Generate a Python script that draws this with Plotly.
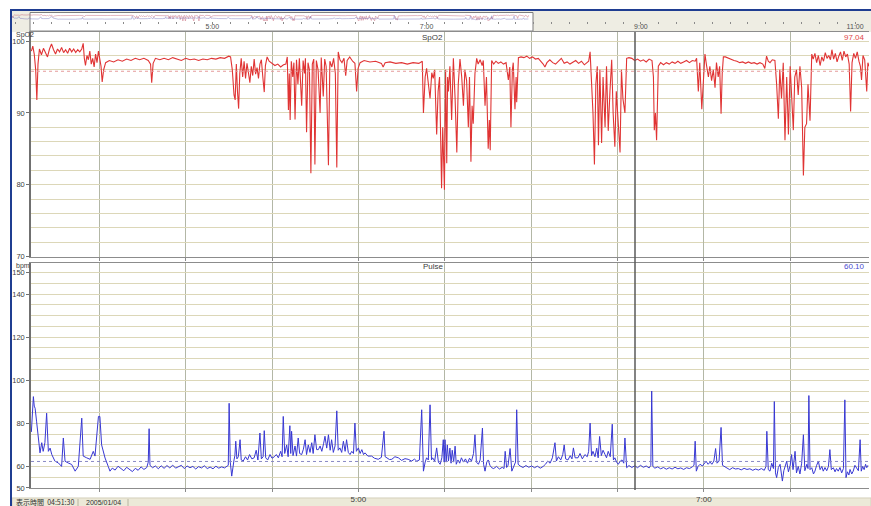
import plotly.graph_objects as go

W, DH = 871, 506          # design coordinates (reference pixels)
FIG_H = 512               # page is captured slightly taller and squeezed to 506
def px(x): return x / W
def py(y): return 1 - y / DH

# ---------------- data (time = minutes after midnight) ----------------
view_range = [186.27, 477.39]
overview_range = [187.8, 668.9]
cursor_time = 396.1
spo2_mean = "97.04"
pulse_mean = "60.10"
spo2_ref = 95.8
pulse_ref = 62.3
display_span = "04:51:30"
record_date = "2005/01/04"

spo2_ticks = [70, 80, 90, 100]
pulse_ticks = [50, 60, 80, 100, 120, 140, 150]
time_tick_vals = [300, 420]
time_tick_text = ["5:00", "7:00"]
overview_tick_vals = [300, 420, 540, 660]
overview_tick_text = ["5:00", "7:00", "9:00", "11:00"]

spo2_points = [
    (186.4, 98.6), (186.9, 99.3), (187.4, 98.2), (187.9, 96.0), (188.3, 91.8), (188.7, 96.8), (189.2, 98.9),
    (189.9, 98.1), (190.6, 99.0), (191.3, 98.4), (192.0, 97.8), (192.7, 98.9), (193.4, 99.6), (194.1, 98.8),
    (194.8, 98.2), (195.5, 98.9), (196.2, 98.5), (196.9, 99.1), (197.6, 98.4), (198.3, 98.8), (199.0, 98.3),
    (199.7, 99.0), (200.4, 98.5), (201.1, 98.9), (201.8, 98.4), (202.5, 98.8), (203.2, 98.5), (203.9, 98.9),
    (204.4, 99.7), (204.8, 97.6), (205.2, 96.6), (205.7, 98.0), (206.2, 97.4), (206.7, 98.6), (207.2, 96.8),
    (207.7, 97.6), (208.2, 96.4), (208.7, 98.2), (209.2, 97.0), (209.7, 98.6), (210.2, 97.6), (210.6, 96.5),
    (211.0, 94.3), (211.5, 96.0), (212.2, 97.0),
    (213.5, 97.3), (215.0, 97.1), (216.5, 97.4), (218.0, 97.2), (219.5, 97.5), (221.0, 97.3), (222.5, 97.6),
    (224.0, 97.4), (225.5, 97.6), (227.0, 97.3), (227.8, 96.8), (228.2, 94.2), (228.7, 96.9), (229.5, 97.6),
    (231.0, 97.4), (232.5, 97.6), (234.0, 97.4), (235.5, 97.7), (237.0, 97.5), (238.5, 97.3), (240.0, 97.6),
    (241.5, 97.4), (243.0, 97.5), (244.5, 97.3), (246.0, 97.5), (247.5, 97.4), (249.0, 97.6), (250.5, 97.5),
    (252.0, 97.7), (253.5, 97.6), (255.0, 97.9),
    (255.6, 97.8), (256.2, 96.0), (256.8, 92.5), (257.2, 91.8), (257.6, 96.8), (258.0, 93.0), (258.4, 90.6),
    (258.8, 95.5), (259.3, 97.6), (259.8, 95.0), (260.3, 97.2), (260.8, 94.8), (261.3, 96.9), (261.8, 95.6),
    (262.3, 94.2), (262.8, 96.5), (263.3, 95.2), (263.8, 97.5), (264.3, 95.4), (264.8, 96.3), (265.3, 94.8),
    (265.8, 96.8), (266.3, 97.4), (266.8, 95.0), (267.3, 92.9), (267.7, 96.6), (268.3, 97.8), (269.0, 97.2),
    (270.0, 96.9), (271.0, 96.6), (272.0, 96.8), (273.0, 96.4), (274.0, 96.7),
    (274.8, 96.8), (275.3, 97.8), (275.7, 90.4), (276.0, 95.5), (276.3, 89.0), (276.7, 97.2), (277.2, 95.0),
    (277.6, 97.0), (278.0, 89.1), (278.5, 97.4), (279.0, 94.0), (279.5, 97.6), (280.3, 91.0), (280.8, 97.3),
    (281.3, 95.5), (281.6, 97.6), (282.0, 87.3), (282.5, 97.0), (283.0, 96.0), (283.5, 81.6), (284.0, 96.8),
    (284.5, 97.5), (284.9, 82.8), (285.4, 97.3), (286.0, 96.0), (286.7, 90.0), (287.1, 97.7), (287.8, 92.3),
    (288.3, 97.5), (288.8, 96.5), (289.6, 82.7), (290.1, 97.2), (290.8, 96.4), (291.4, 97.6), (292.0, 95.5),
    (292.5, 82.4), (293.0, 98.5),
    (293.6, 97.4), (294.3, 97.0), (295.0, 97.6), (295.6, 95.2), (296.1, 97.3), (297.0, 97.8), (298.0, 97.2),
    (298.8, 96.9), (299.4, 93.0), (299.9, 96.2), (300.6, 97.0), (302.0, 97.3), (304.0, 97.1), (306.0, 97.2),
    (308.0, 96.9), (308.6, 96.4), (309.3, 97.0), (311.0, 97.1), (313.0, 96.9), (315.0, 97.0), (317.0, 96.8),
    (319.0, 97.0), (321.0, 96.9), (321.6, 97.0),
    (322.2, 97.2), (322.6, 90.0), (323.2, 95.0), (323.7, 96.2), (324.2, 94.5), (324.9, 92.0), (325.5, 95.6),
    (326.0, 94.8), (326.5, 96.0), (327.2, 87.0), (327.7, 93.0), (328.2, 95.0), (328.9, 79.5), (329.3, 88.0),
    (329.9, 79.3), (330.3, 96.0), (330.7, 83.0), (331.0, 95.0), (331.3, 93.0), (331.8, 96.5), (332.4, 89.0),
    (333.0, 97.6), (333.6, 92.0), (334.2, 84.5), (334.7, 94.0), (335.3, 97.5), (335.9, 95.0), (336.5, 91.0),
    (337.0, 96.0), (337.6, 94.5), (338.2, 88.0), (338.6, 95.0), (339.1, 83.2), (339.5, 91.0), (339.9, 88.5),
    (340.5, 95.5), (341.1, 97.6),
    (341.6, 96.8), (342.3, 97.4), (343.0, 96.6), (343.4, 97.3), (344.0, 91.0), (344.5, 95.0), (345.1, 85.0),
    (345.5, 89.0), (345.8, 84.8), (346.3, 97.3), (347.0, 96.8), (347.8, 97.2), (348.6, 96.9), (349.5, 97.1),
    (350.4, 96.8), (351.3, 97.0), (352.1, 94.6), (352.6, 96.4), (353.0, 88.0), (353.5, 96.0), (353.8, 97.0),
    (354.4, 90.5), (354.8, 95.0), (355.0, 91.5), (355.6, 97.7),
    (356.5, 97.8), (357.5, 97.7), (358.5, 97.9), (359.5, 97.6), (360.5, 97.8), (361.5, 97.5), (362.5, 97.6),
    (363.5, 97.2), (364.2, 96.8), (364.8, 96.4), (365.5, 97.0), (366.5, 97.4), (367.5, 97.0), (368.5, 96.8),
    (369.5, 97.2), (370.5, 97.6), (371.5, 96.9), (372.5, 97.1), (373.5, 96.8), (374.5, 97.0), (375.5, 97.3),
    (376.5, 96.9), (377.5, 97.2), (378.5, 96.7), (379.5, 97.1),
    (380.0, 97.2), (380.5, 98.5), (381.0, 94.0), (381.5, 90.0), (382.0, 82.8), (382.5, 94.0), (383.0, 96.5),
    (383.4, 85.5), (383.9, 96.0), (384.5, 85.8), (385.0, 95.0), (385.7, 88.0), (386.2, 96.5), (386.8, 87.5),
    (387.4, 93.0), (388.0, 97.4), (388.5, 90.0), (389.1, 85.3), (389.6, 93.0), (390.3, 89.0), (390.9, 84.5),
    (391.4, 96.0), (391.9, 92.0), (392.6, 90.0), (393.2, 97.6),
    (394.0, 97.7), (395.0, 97.6), (396.0, 97.3), (397.0, 97.5), (398.0, 97.2), (399.0, 97.4), (400.0, 97.1),
    (401.0, 97.5), (402.0, 97.3), (402.5, 95.0), (402.8, 87.6), (403.2, 90.0), (403.6, 86.2), (404.2, 96.5),
    (405.0, 97.0), (406.0, 96.7), (407.0, 97.0), (408.0, 96.8), (409.0, 97.1), (410.0, 96.9), (411.0, 97.2),
    (412.0, 96.9), (413.0, 97.1), (414.0, 97.3), (415.0, 97.0), (416.0, 97.3), (417.0, 97.2),
    (417.5, 97.6), (418.1, 93.0), (418.6, 97.0), (419.3, 90.5), (419.8, 94.0), (420.4, 98.2), (421.0, 96.5),
    (421.6, 95.0), (422.1, 96.5), (422.7, 94.5), (423.3, 96.0), (423.9, 93.5), (424.4, 97.0), (425.0, 95.0),
    (425.5, 96.5), (426.0, 89.9), (426.4, 95.5), (426.8, 97.8),
    (427.5, 97.8), (428.5, 97.6), (429.5, 97.5), (430.5, 97.3), (431.5, 97.2), (432.5, 97.0), (433.5, 97.1),
    (434.5, 96.9), (435.5, 97.1), (436.5, 96.9), (437.5, 97.0), (438.5, 96.8), (439.5, 97.0), (440.5, 96.8),
    (441.2, 96.2), (441.8, 97.9),
    (442.4, 97.2), (443.0, 97.0), (443.8, 97.4), (444.7, 97.3), (445.3, 94.0), (445.9, 89.2), (446.4, 96.0),
    (447.0, 92.0), (447.6, 97.0), (448.2, 86.2), (448.8, 95.0), (449.4, 87.0), (450.0, 96.5), (450.5, 93.0),
    (451.1, 87.6), (451.6, 95.0), (452.2, 96.0), (452.8, 92.5), (453.4, 96.5), (454.0, 93.5), (454.6, 81.3),
    (455.1, 88.0), (455.7, 88.5), (456.2, 94.0), (456.9, 88.9), (457.5, 98.2),
    (458.0, 97.5), (458.6, 98.3), (459.2, 97.0), (459.8, 98.0), (460.4, 96.6), (461.0, 97.8), (461.6, 97.2),
    (462.2, 98.4), (462.8, 97.6), (463.4, 98.0), (464.0, 97.4), (464.5, 98.8), (465.1, 97.5), (465.7, 98.3),
    (466.3, 97.1), (466.9, 97.9), (467.5, 98.5), (468.1, 97.3), (468.7, 98.6), (469.3, 97.8), (469.9, 98.2),
    (470.5, 96.8), (471.0, 90.2), (471.5, 97.0), (472.1, 98.3), (472.7, 97.6), (473.3, 98.5), (473.9, 97.2),
    (474.4, 96.5), (474.8, 94.6), (475.3, 98.0), (475.9, 97.4), (476.3, 95.5), (476.6, 93.0), (477.0, 97.0),
    (477.4, 96.5),
]

pulse_points = [
    (186.4, 76.0), (186.8, 84.0), (187.1, 92.4), (187.4, 88.0), (187.7, 87.0), (188.2, 81.0), (188.8, 71.7),
    (189.4, 66.3), (190.0, 71.0), (190.5, 67.0), (191.1, 71.0), (191.7, 84.7), (192.3, 67.0), (192.9, 68.5),
    (193.5, 65.5), (194.6, 62.4), (195.8, 61.6), (196.9, 60.0), (197.5, 73.2), (198.1, 62.4), (199.2, 61.6),
    (200.4, 60.9), (201.6, 57.8), (202.7, 60.0), (203.9, 82.4), (204.4, 64.8), (205.6, 64.0), (206.8, 63.3),
    (207.9, 67.0), (208.5, 64.8), (209.7, 83.2), (210.2, 83.2), (210.8, 70.0), (212.0, 63.9), (213.1, 60.0),
    (213.7, 57.8),
    (214.5, 59.2), (215.5, 58.3), (216.5, 60.1), (217.5, 59.0), (218.5, 58.0), (219.5, 59.6), (220.5, 58.4),
    (221.5, 57.6), (222.5, 59.1), (223.5, 58.2), (224.5, 59.8), (225.5, 58.6), (226.5, 59.5), (227.0, 62.0),
    (227.3, 77.5), (227.6, 60.5), (228.5, 59.4), (229.5, 60.2), (230.5, 58.9), (231.5, 60.3), (232.5, 59.1),
    (233.5, 60.4), (234.5, 59.3), (235.5, 60.6), (236.5, 59.2), (237.5, 59.8), (238.5, 60.5), (239.5, 59.0),
    (240.5, 60.2), (241.5, 59.4), (242.5, 60.0), (243.5, 58.8), (244.5, 59.9), (245.5, 59.3), (246.5, 60.3),
    (247.5, 59.0), (248.5, 59.7), (249.5, 58.9), (250.5, 60.1), (251.5, 59.2), (252.5, 59.8), (253.5, 59.3),
    (254.2, 60.0), (254.8, 60.5), (255.1, 89.3), (255.5, 62.0), (256.0, 55.5), (256.4, 60.5),
    (256.8, 63.0), (257.1, 65.0), (257.4, 71.7), (257.8, 63.5), (258.3, 64.5), (258.9, 72.4), (259.3, 63.0),
    (260.0, 62.5), (260.8, 64.5), (261.5, 63.0), (262.2, 65.5), (263.0, 63.5), (263.8, 64.0), (264.5, 67.5),
    (265.1, 63.0), (265.8, 75.5), (266.3, 63.5), (266.9, 64.5), (267.3, 76.6), (267.8, 64.0), (268.5, 63.0),
    (269.3, 65.5), (270.0, 63.8), (270.8, 64.5), (271.5, 65.5), (272.2, 64.0), (273.0, 67.0),
    (273.5, 64.5), (273.9, 83.2), (274.4, 66.0), (275.1, 70.0), (275.6, 64.5), (276.2, 78.9), (276.5, 66.0),
    (276.8, 76.3), (277.3, 65.0), (278.0, 69.5), (278.5, 64.8), (279.1, 73.2), (279.6, 66.0), (280.3, 65.5),
    (280.9, 68.0), (281.5, 72.4), (282.0, 65.5), (282.6, 70.0), (283.2, 66.5), (283.8, 71.0), (284.3, 66.0),
    (284.9, 74.7), (285.5, 67.8), (286.1, 67.8), (286.7, 69.5), (287.3, 67.0), (287.9, 70.5), (288.4, 74.0),
    (289.0, 68.5), (289.6, 74.7), (290.2, 67.5), (290.7, 72.4), (291.3, 66.5), (291.9, 69.5), (292.5, 85.8),
    (293.0, 67.5), (293.6, 68.6), (294.2, 66.5), (294.8, 71.7), (295.4, 67.0), (295.9, 72.4), (296.5, 66.5),
    (297.1, 65.5), (297.7, 67.0), (298.3, 66.0), (298.8, 80.1), (299.3, 67.0), (300.0, 68.6), (300.6, 66.0),
    (301.2, 67.8), (301.8, 65.5), (302.3, 66.3), (303.3, 64.8), (304.6, 64.8), (305.6, 63.8), (306.9, 63.3),
    (308.0, 64.2), (308.9, 76.3), (309.3, 64.5), (309.8, 64.0), (310.8, 63.2), (311.6, 63.3), (312.7, 64.5),
    (313.9, 64.0), (315.0, 62.8), (316.2, 63.6), (317.3, 63.3), (318.5, 62.5), (319.5, 63.4), (320.3, 62.4),
    (321.2, 63.0), (322.0, 86.3), (322.6, 57.8), (323.2, 62.0), (323.7, 64.0), (324.3, 63.0), (324.9, 88.6),
    (325.4, 63.0), (325.8, 64.0), (326.5, 62.5), (327.2, 68.6), (327.8, 62.0), (328.4, 61.0), (329.0, 64.0),
    (329.5, 72.4), (329.8, 62.0),
    (330.1, 72.4), (330.5, 62.0), (330.9, 70.0), (331.3, 62.5), (331.8, 68.5), (332.2, 61.5), (332.6, 67.5),
    (333.1, 62.0), (333.6, 69.4), (334.0, 61.0), (334.6, 63.0), (335.2, 61.5), (335.8, 64.0), (336.5, 62.0),
    (337.2, 63.5), (337.9, 61.5), (338.6, 63.8), (339.3, 62.5), (340.0, 66.0), (340.5, 74.7), (341.0, 62.0),
    (341.7, 61.0), (342.3, 63.0), (343.1, 77.8), (343.5, 61.0), (344.0, 57.8), (344.6, 62.0), (345.1, 63.0),
    (345.7, 60.5), (346.3, 59.4),
    (347.0, 59.0), (348.0, 60.0), (349.0, 58.8), (350.0, 59.6), (350.6, 59.0), (351.0, 67.0), (351.5, 59.5),
    (352.0, 60.5), (352.7, 68.3), (353.3, 57.8), (354.0, 60.5), (354.6, 62.0), (355.0, 86.3), (355.5, 61.0),
    (356.2, 60.2), (357.2, 59.5), (358.2, 60.4), (359.2, 59.6), (360.2, 60.2), (361.2, 59.4), (362.2, 60.1),
    (363.2, 59.2), (364.2, 60.0),
    (365.0, 61.0), (365.8, 62.5), (366.6, 61.5), (367.4, 64.0), (368.3, 71.0), (368.8, 62.5), (369.5, 64.5),
    (370.3, 63.0), (371.0, 65.5), (371.5, 70.0), (372.0, 63.5), (372.8, 63.0), (373.6, 65.0), (374.2, 63.5),
    (374.7, 68.6), (375.3, 64.0), (376.3, 64.0), (377.0, 66.0), (377.8, 63.5), (378.7, 65.5), (379.5, 64.5),
    (380.0, 67.0), (380.5, 80.1), (381.0, 65.0), (381.5, 67.0), (382.2, 64.5), (382.8, 68.5), (383.3, 64.0),
    (383.8, 73.9), (384.4, 65.0), (385.0, 67.5), (385.7, 65.5), (386.2, 64.0), (386.8, 67.0), (387.5, 64.5),
    (388.2, 79.6), (388.6, 63.0), (389.1, 64.0), (389.7, 62.0), (390.3, 61.0), (391.0, 62.5), (391.6, 63.0),
    (392.2, 61.5), (392.6, 73.2), (393.2, 59.4),
    (394.0, 60.4), (395.0, 59.5), (396.0, 60.3), (397.0, 59.4), (398.0, 60.5), (399.0, 59.6), (400.0, 60.2),
    (401.0, 59.3), (401.6, 60.5), (401.9, 95.0), (402.3, 60.0), (403.0, 59.2), (404.0, 59.8), (405.0, 58.9),
    (406.0, 59.5), (407.0, 58.7), (408.0, 59.4), (409.0, 58.8), (410.0, 59.6), (411.0, 58.9), (412.0, 59.3),
    (413.0, 58.6), (414.0, 59.4), (415.0, 59.0), (416.0, 59.8),
    (416.6, 60.5), (417.0, 71.7), (417.4, 57.8), (418.0, 60.0), (418.7, 61.0), (419.5, 60.2), (420.2, 61.5),
    (420.8, 62.4), (421.5, 61.0), (422.2, 62.0), (422.8, 61.0), (423.5, 62.5), (424.1, 68.3), (424.6, 61.5),
    (425.3, 62.5), (426.0, 78.1), (426.5, 60.5), (427.2, 60.0),
    (428.0, 59.2), (429.0, 58.5), (430.0, 59.4), (431.0, 58.8), (432.0, 59.0), (433.0, 58.4), (434.0, 59.1),
    (435.0, 58.6), (436.0, 58.9), (437.0, 58.2), (438.0, 58.8), (439.0, 58.3), (440.0, 59.0), (441.0, 58.2),
    (441.6, 60.0),
    (441.9, 76.3), (442.4, 58.5), (443.0, 57.8), (443.6, 61.5), (444.2, 59.0), (444.5, 90.1), (444.9, 57.0),
    (445.3, 54.8), (445.9, 59.5), (446.5, 61.0), (446.9, 56.5), (447.3, 53.2), (447.8, 58.0), (448.3, 60.5),
    (448.8, 62.4), (449.4, 57.5), (450.0, 60.5), (450.5, 65.5), (451.0, 58.5), (451.7, 67.0), (452.2, 57.0),
    (452.8, 60.0), (453.4, 56.5), (454.0, 61.5), (454.6, 74.7), (455.1, 58.0), (455.8, 61.0), (456.2, 59.0),
    (456.5, 92.9), (456.9, 58.5), (457.5, 59.4), (458.1, 56.5), (458.6, 57.8), (459.2, 60.5), (459.8, 62.4),
    (460.4, 58.5), (461.0, 60.0), (461.5, 57.8), (462.1, 59.5), (462.7, 58.0), (463.3, 60.0), (463.8, 67.8),
    (464.3, 58.5), (465.0, 59.4), (465.6, 57.5), (466.1, 59.0), (466.7, 57.8), (467.3, 59.5), (467.9, 57.0),
    (468.5, 59.0), (469.0, 90.9), (469.4, 54.8), (469.9, 57.5), (470.4, 56.0), (470.8, 58.6), (471.4, 56.5),
    (471.9, 57.8), (472.5, 60.5), (473.1, 59.4), (473.7, 58.0), (474.3, 72.4), (474.7, 57.8), (475.2, 60.0),
    (475.7, 58.5), (476.2, 61.0), (476.6, 59.4), (477.0, 60.5),
]

spo2_events = [187.7, 191.4, 256.8, 258.2, 266.9, 275.2, 276.2, 277.6, 278.7, 279.7, 281.1, 282.2, 283.5,
               284.9, 286.7, 287.7, 289.4, 291.9, 322.5, 324.2, 326.6, 327.7, 328.7, 329.7, 330.8, 331.8,
               332.9, 333.9, 335.0, 336.0, 337.0, 338.1, 339.1, 340.2, 341.2, 343.6, 344.7, 345.7, 352.0,
               353.0, 354.1, 355.1, 381.2, 382.2, 383.2, 384.3, 385.3, 386.4, 387.4, 388.5, 389.5, 390.5,
               391.6, 392.6, 402.7, 417.6, 418.7, 419.7, 424.2, 425.6, 445.4, 446.5, 447.5, 448.6, 449.6,
               450.6, 451.7, 452.7, 453.8, 454.8, 455.9, 456.9, 465.6, 470.1, 471.5, 475.3, 476.7]

pulse_events = [186.6, 191.1, 195.0, 197.7, 200.9, 204.0, 206.8, 208.2, 209.5, 227.3, 255.1, 257.5, 260.3,
                263.0, 265.5, 267.6, 272.1, 273.5, 274.9, 276.2, 277.6, 279.0, 280.4, 281.8, 283.2, 284.6,
                286.0, 287.4, 288.8, 290.1, 291.5, 292.9, 294.3, 295.7, 297.1, 298.8, 308.9, 322.1, 323.8,
                325.6, 327.3, 329.0, 330.8, 332.5, 334.3, 336.0, 337.7, 339.5, 341.2, 342.9, 344.7, 345.7,
                353.7, 355.1, 364.1, 366.2, 368.3, 371.1, 377.0, 380.5, 381.9, 383.2, 384.6, 386.4, 388.1,
                389.5, 390.9, 392.6, 416.9, 418.3, 419.7, 422.8, 424.6, 426.0, 441.3, 443.0, 444.7, 446.5,
                448.2, 449.9, 451.7, 454.5, 456.2, 457.6, 463.1, 469.1, 471.5, 473.2, 474.9]

spo2_t = [p[0] for p in spo2_points]
spo2_v = [p[1] for p in spo2_points]
pulse_t = [p[0] for p in pulse_points]
pulse_v = [p[1] for p in pulse_points]

RED = "#e03434"
BLUE = "#3838d2"
XGRID = "#b3b7a6"
YGRID = "#dcd7b8"
FONT = "Liberation Sans"

fig = go.Figure()
fig.add_trace(go.Scatter(x=spo2_t, y=spo2_v, mode="lines", line=dict(color=RED, width=1.1),
                         xaxis="x", yaxis="y", hoverinfo="skip"))
fig.add_trace(go.Scatter(x=spo2_events, y=[69.6] * len(spo2_events), mode="markers",
                         marker=dict(symbol="square", size=3, color="#d82828", line=dict(width=0)),
                         cliponaxis=False, xaxis="x", yaxis="y", hoverinfo="skip"))
fig.add_trace(go.Scatter(x=pulse_t, y=pulse_v, mode="lines", line=dict(color=BLUE, width=1.0),
                         xaxis="x2", yaxis="y2", hoverinfo="skip"))
fig.add_trace(go.Scatter(x=pulse_events, y=[49.0] * len(pulse_events), mode="markers",
                         marker=dict(symbol="square", size=3, color="#2626b4", line=dict(width=0)),
                         cliponaxis=False, xaxis="x2", yaxis="y2", hoverinfo="skip"))
# compressed overview of the same recording in the top strip
fig.add_trace(go.Scatter(x=spo2_t, y=spo2_v, mode="lines", line=dict(color="#c86a7a", width=0.6),
                         opacity=0.8, xaxis="x3", yaxis="y3", hoverinfo="skip"))
fig.add_trace(go.Scatter(x=pulse_t, y=pulse_v, mode="lines", line=dict(color="#6a6ab8", width=0.6),
                         opacity=0.7, xaxis="x3", yaxis="y4", hoverinfo="skip"))

xcommon = dict(range=view_range, tickmode="array", tickvals=time_tick_vals, ticks="outside", ticklen=3,
               tickcolor="#8a8a8a", showgrid=True, gridcolor=XGRID, gridwidth=1, zeroline=False,
               showline=True, linecolor="#8c8c8c", linewidth=1, mirror=True,
               minor=dict(tickmode="linear", tick0=210, dtick=30, showgrid=True, gridcolor=XGRID,
                          ticks="outside", ticklen=3, tickcolor="#8a8a8a"),
               domain=[px(31), px(869)], fixedrange=True)

fig.update_layout(
    width=W, height=FIG_H, autosize=False,
    margin=dict(l=0, r=0, t=0, b=0),
    paper_bgcolor="white", plot_bgcolor="white",
    showlegend=False,
    font=dict(family=FONT, size=8, color="#404040"),
    xaxis=dict(anchor="y", showticklabels=False, **xcommon),
    xaxis2=dict(anchor="y2", ticktext=time_tick_text, tickfont=dict(size=8, color="#404040"), **xcommon),
    yaxis=dict(domain=[py(256), py(32)], range=[70, 101.26], tickmode="array", tickvals=spo2_ticks,
               ticks="outside", ticklen=3, tickcolor="#707070", tickfont=dict(size=7.5, color="#404040"),
               showgrid=True, gridcolor=YGRID, zeroline=False, showline=True, linecolor="#707070",
               linewidth=1.5, minor=dict(tickmode="linear", tick0=70, dtick=2, showgrid=True, gridcolor=YGRID),
               fixedrange=True),
    yaxis2=dict(domain=[py(487), py(262)], range=[50, 154.65], tickmode="array", tickvals=pulse_ticks,
                ticks="outside", ticklen=3, tickcolor="#707070", tickfont=dict(size=7.5, color="#404040"),
                showgrid=True, gridcolor=YGRID, zeroline=False, showline=True, linecolor="#707070",
                linewidth=1.5, minor=dict(tickmode="linear", tick0=50, dtick=5, showgrid=True, gridcolor=YGRID),
                fixedrange=True),
    xaxis3=dict(domain=[px(12), 1], anchor="y3", range=overview_range, tickmode="array",
                tickvals=overview_tick_vals, ticktext=overview_tick_text, ticks="",
                tickfont=dict(size=7, color="#505050"), showgrid=False, zeroline=False, showline=False,
                minor=dict(tickmode="linear", tick0=190, dtick=10, ticks="outside", ticklen=2,
                           tickcolor="#8a8a8a", showgrid=False),
                fixedrange=True),
    yaxis3=dict(domain=[py(21), py(14)], range=[84, 101], visible=False, fixedrange=True),
    yaxis4=dict(domain=[py(21), py(14)], range=[40, 110], visible=False, fixedrange=True,
                overlaying="y3"),
)

shapes = [
    dict(type="rect", xref="paper", yref="paper", x0=px(12), x1=1, y0=py(32), y1=py(11),
         fillcolor="#eeede3", line=dict(width=0), layer="below"),
    dict(type="rect", xref="paper", yref="paper", x0=px(30), x1=px(533), y0=py(31), y1=py(12.5),
         fillcolor="white", line=dict(color="#7c7c7c", width=1), layer="below"),
    dict(type="rect", xref="paper", yref="paper", x0=px(10), x1=1, y0=py(11), y1=py(9),
         fillcolor="#1f3d91", line=dict(width=0)),
    dict(type="rect", xref="paper", yref="paper", x0=px(10), x1=px(12), y0=0, y1=py(9),
         fillcolor="#1f3d91", line=dict(width=0)),
    dict(type="rect", xref="paper", yref="paper", x0=px(12), x1=1, y0=0, y1=py(497),
         fillcolor="#ece9d8", line=dict(color="#d4d0bc", width=1), layer="below"),
    dict(type="line", xref="paper", yref="paper", x0=px(78), x1=px(78), y0=0, y1=py(498),
         line=dict(color="#b8b4a0", width=1)),
    dict(type="line", xref="paper", yref="paper", x0=px(128), x1=px(128), y0=0, y1=py(498),
         line=dict(color="#b8b4a0", width=1)),
    dict(type="line", xref="x", yref="y", x0=view_range[0], x1=view_range[1], y0=spo2_ref, y1=spo2_ref,
         line=dict(color="#e59a9a", width=1, dash="dot")),
    dict(type="line", xref="x2", yref="y2", x0=view_range[0], x1=view_range[1], y0=pulse_ref, y1=pulse_ref,
         line=dict(color="#8888c4", width=1, dash="dot")),
    dict(type="line", xref="x", yref="paper", x0=cursor_time, x1=cursor_time, y0=py(489), y1=py(32),
         line=dict(color="#5a5a5a", width=1.5)),
]
fig.update_layout(shapes=shapes)

def note(text, x, y, size=8, color="#404040", anchor="left", family=FONT):
    return dict(text=text, x=px(x), y=py(y), xref="paper", yref="paper", showarrow=False,
                xanchor=anchor, yanchor="middle", font=dict(size=size, color=color, family=family))

fig.update_layout(annotations=[
    note("SpO2", 14, 34.5, size=7),
    note("SpO2", 432, 37, size=8, anchor="center"),
    note(spo2_mean, 867, 37, size=8, color="#e04848", anchor="right"),
    note("bpm", 14, 265, size=7),
    note("Pulse", 433, 266, size=8, anchor="center"),
    note(pulse_mean, 867, 266, size=8, color="#4a4ad0", anchor="right"),
    note("表示時間  " + display_span, 14, 501.5, size=7, family="Noto Sans CJK JP", color="#303030"),
    note(record_date, 84, 501.5, size=7, color="#303030"),
])

fig.write_html("out.html", config=dict(displayModeBar=False),
               post_script="document.body.style.margin='0';document.body.style.padding='0';"
                           "document.body.style.overflow='hidden';")
